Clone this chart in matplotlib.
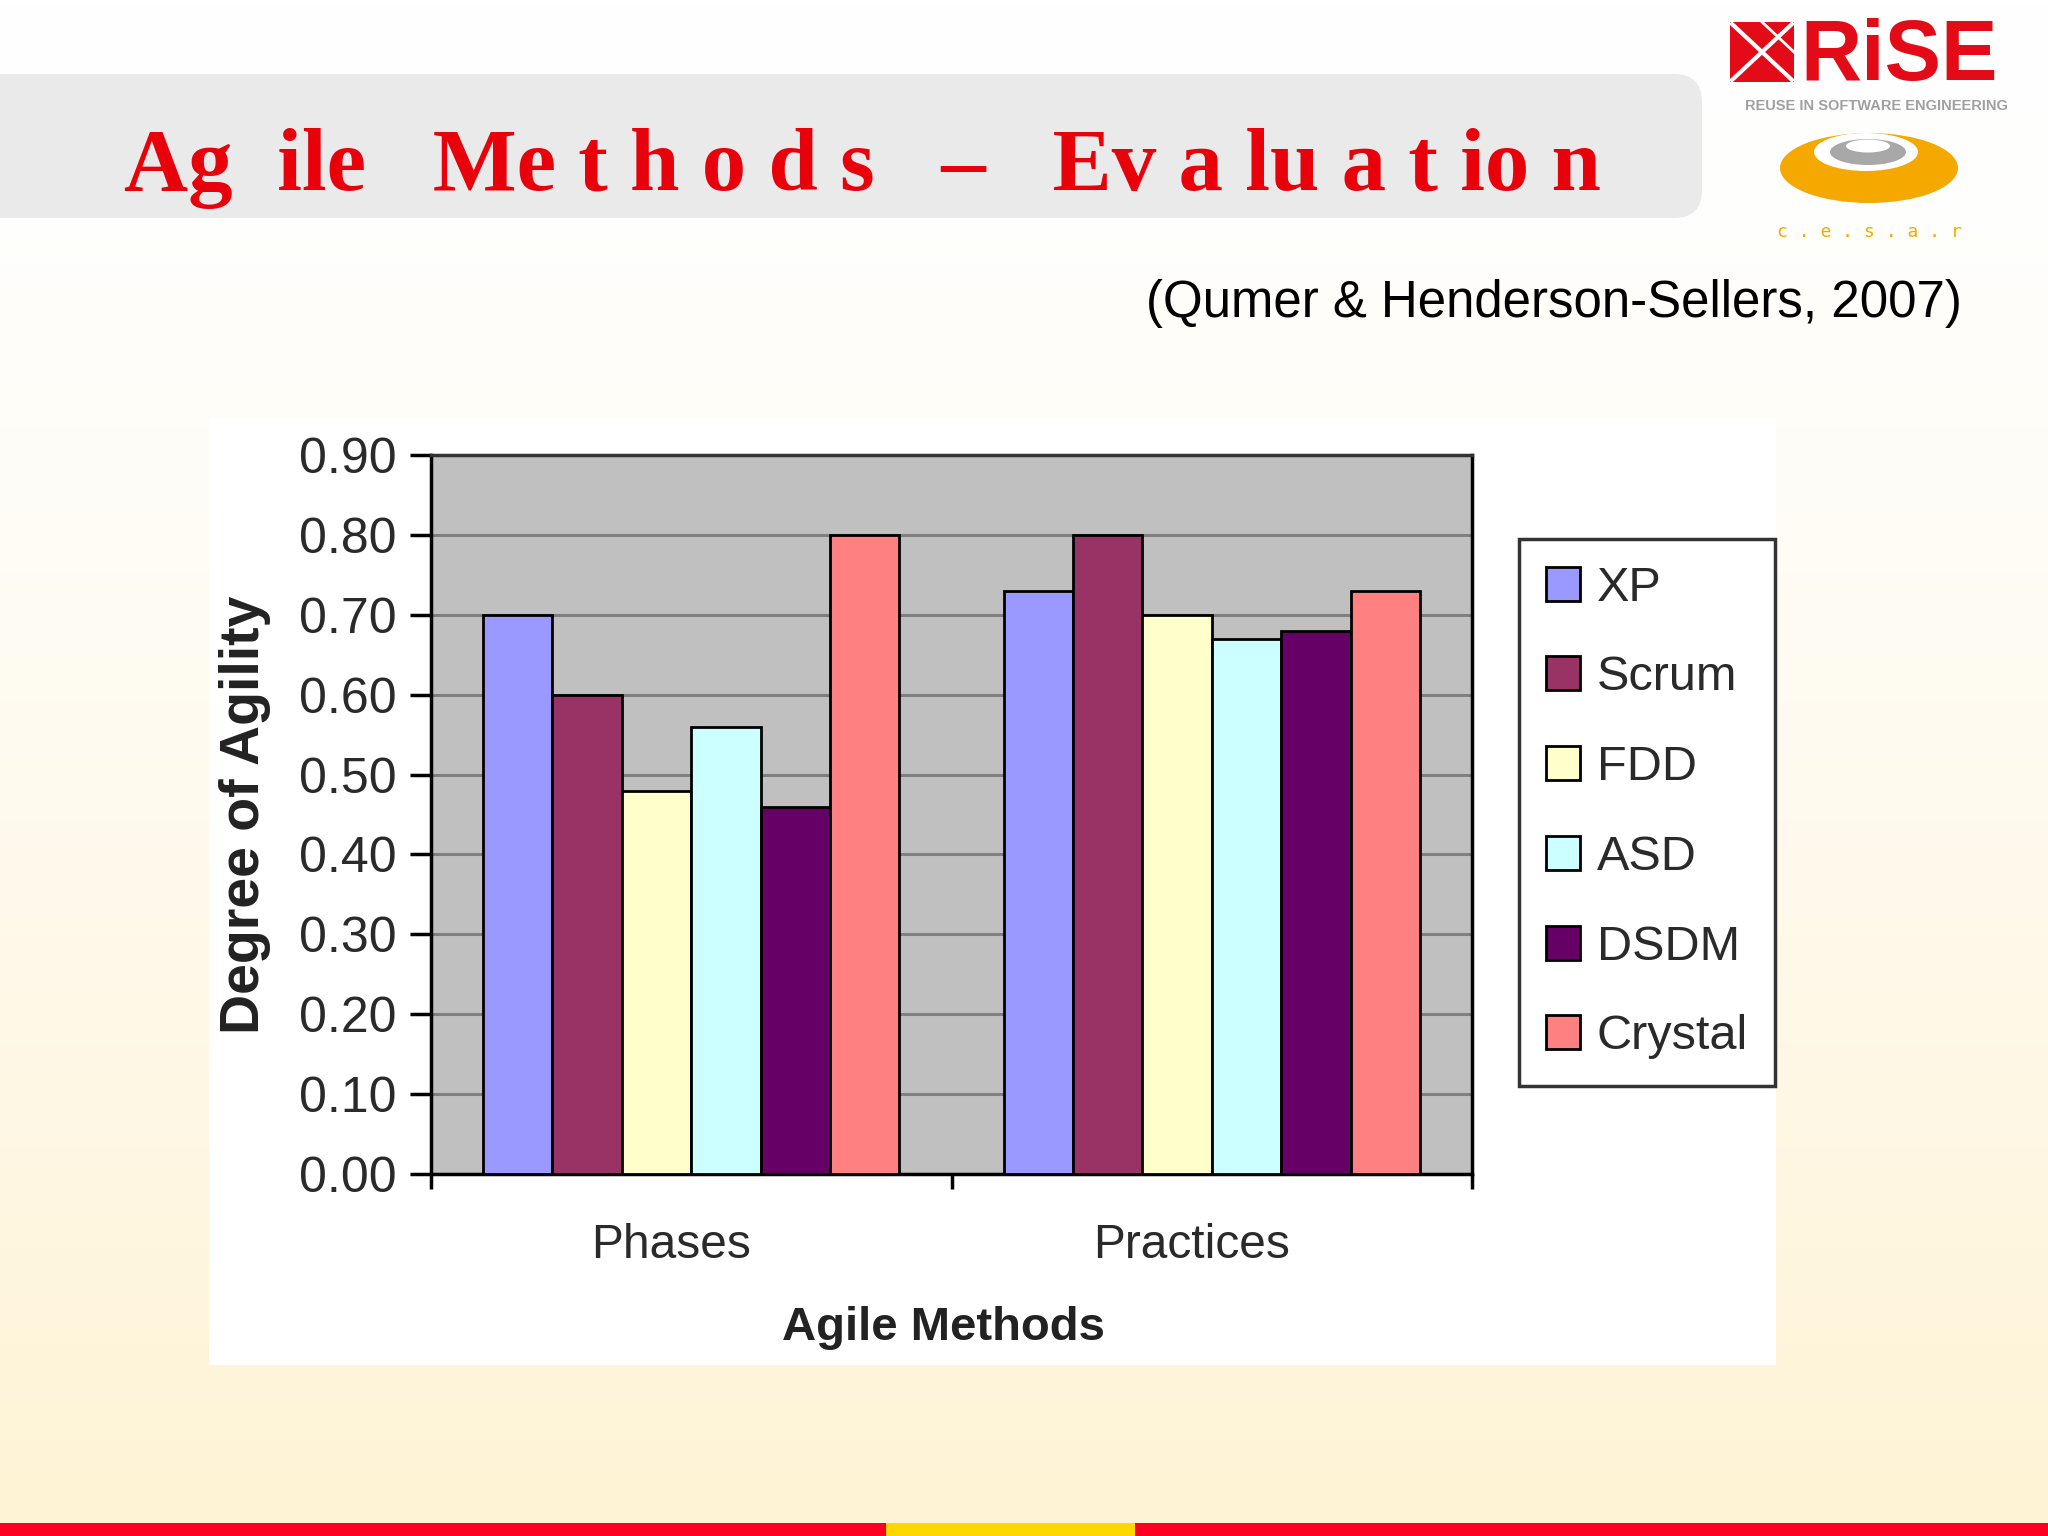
import numpy as np
import matplotlib.pyplot as plt
from matplotlib.patches import FancyBboxPatch, Rectangle, Ellipse
from matplotlib.colors import to_rgb
from matplotlib.transforms import ScaledTranslation

plt.switch_backend('Agg')
plt.rcParams['font.family'] = ['Liberation Sans', 'DejaVu Sans']

# --- data ---
categories = ['Phases', 'Practices']
methods = ['XP', 'Scrum', 'FDD', 'ASD', 'DSDM', 'Crystal']
phases = [0.70, 0.60, 0.48, 0.56, 0.46, 0.80]
practices = [0.73, 0.80, 0.70, 0.67, 0.68, 0.73]
bar_colors = ['#9999FF', '#993366', '#FFFFCC', '#CCFFFF', '#660066', '#FF8080']
yticks = [0.0, 0.1, 0.2, 0.3, 0.4, 0.5, 0.6, 0.7, 0.8, 0.9]
ytick_labels = ['0.00', '0.10', '0.20', '0.30', '0.40', '0.50', '0.60', '0.70', '0.80', '0.90']

W, H = 2048, 1536
fig = plt.figure(figsize=(W / 100, H / 100), dpi=100)

# background layer in pixel coordinates
bg = fig.add_axes([0, 0, 1, 1])
bg.set_xlim(0, W)
bg.set_ylim(H, 0)
bg.axis('off')

top_c = np.array(to_rgb('#FFFFFF'))
bot_c = np.array(to_rgb('#FEF3D4'))
t = np.linspace(0, 1, 256) ** 1.4
grad = (1 - t)[:, None, None] * top_c + t[:, None, None] * bot_c
bg.imshow(grad, extent=[0, W, H, 0], aspect='auto', zorder=0)

# title band
bg.add_patch(FancyBboxPatch((-60, 74), 1762, 144,
                            boxstyle='round,pad=0,rounding_size=28',
                            fc='#EAEAEA', ec='none', zorder=1))
bg.text(124, 190, 'Ag  ile   Me t h o d s   –   Ev a lu a t io n',
        fontsize=64, fontweight='bold', family='Liberation Serif',
        color='#E8000B', ha='left', va='baseline', zorder=2)

bg.text(1962, 317, '(Qumer & Henderson-Sellers, 2007)', fontsize=36.7,
        color='black', ha='right', va='baseline', zorder=2)

# white area behind the chart
bg.add_patch(Rectangle((209, 418), 1567, 947, fc='white', ec='none', zorder=1))

# RiSE logo
bg.add_patch(Rectangle((1730, 22), 64, 60, fc='#E30B17', ec='none', zorder=2))
bg.plot([1732, 1792], [24, 80], color='white', lw=3, zorder=3)
bg.plot([1732, 1792], [80, 24], color='white', lw=3, zorder=3)
bg.plot([1762, 1794], [22, 52], color='white', lw=2, zorder=3)
bg.text(1800, 80, 'RiSE', fontsize=61, fontweight='bold', color='#E30B17',
        ha='left', va='baseline', zorder=2)
bg.text(1876, 106, 'REUSE IN SOFTWARE ENGINEERING', fontsize=10.5,
        fontweight='bold', color='#A0A0A0', ha='center', va='center', zorder=2)

# CESAR logo
bg.add_patch(Ellipse((1869, 168), 178, 70, fc='#F5A800', ec='none', zorder=2))
bg.add_patch(Ellipse((1866, 152), 104, 38, fc='white', ec='none', zorder=3))
bg.add_patch(Ellipse((1868, 152), 76, 26, fc='#A8A8A8', ec='none', zorder=4))
bg.add_patch(Ellipse((1868, 146), 44, 13, fc='white', ec='none', zorder=5))
bg.text(1869, 232, 'c . e . s . a . r', fontsize=13, color='#F5A800',
        family='DejaVu Sans Mono', ha='center', va='center', zorder=2)

# bottom stripe
bg.add_patch(Rectangle((0, 1523), W, 13, fc='#FF0022', ec='none', zorder=2))
bg.add_patch(Rectangle((886, 1523), 249, 13, fc='#FFD700', ec='none', zorder=3))

# --- the chart ---
ax = fig.add_axes([431 / W, 1 - 1174 / H, 1041 / W, 719 / H])
x = np.arange(len(categories))
width = 0.8 / len(methods)
for i, name in enumerate(methods):
    off = -0.4 + width * (i + 0.5)
    ax.bar(x + off, [phases[i], practices[i]], width, color=bar_colors[i],
           edgecolor='black', linewidth=2, label=name, zorder=3)

ax.set_facecolor('#C0C0C0')
ax.set_xlim(-0.5, 1.5)
ax.set_ylim(0, 0.9)
ax.yaxis.grid(True, color='#808080', linewidth=2.2)
ax.set_axisbelow(True)

ax.set_yticks(yticks)
ax.set_yticklabels(ytick_labels)
ax.tick_params(axis='y', direction='out', length=15, width=2.5, pad=10,
               labelsize=36, labelcolor='#2a2a2a')

ax.set_xticks([-0.5, 0.5, 1.5])
ax.set_xticklabels([])
ax.tick_params(axis='x', which='major', direction='out', length=11, width=2.5)
ax.set_xticks(x, minor=True)
ax.set_xticklabels(categories, minor=True)
ax.tick_params(axis='x', which='minor', length=0, pad=35, labelsize=34.5,
               labelcolor='#2a2a2a')
# category labels sit a little left of the group centre in the original
shift = ScaledTranslation(-0.2, 0, fig.dpi_scale_trans)
for lbl in ax.get_xticklabels(minor=True):
    lbl.set_transform(lbl.get_transform() + shift)

for s in ax.spines.values():
    s.set_linewidth(2.5)
    s.set_color('black')
ax.spines['top'].set_color('#333333')

ax.set_xlabel('Agile Methods', fontsize=34, fontweight='bold', labelpad=28,
              color='#222222')
ax.xaxis.label.set_x(0.492)
ax.set_ylabel('Degree of Agility', fontsize=40, fontweight='bold', labelpad=20,
              color='#222222')

leg = ax.legend(loc='upper left', bbox_to_anchor=(1519 / W, 1 - 539 / H),
                bbox_transform=fig.transFigure, fontsize=35, frameon=True,
                fancybox=False, edgecolor='#333333', framealpha=1,
                borderaxespad=0, handlelength=0.7, handleheight=0.7,
                handletextpad=0.35, labelspacing=0.92, borderpad=0.55)
leg.get_frame().set_linewidth(2.5)
for txt in leg.get_texts():
    txt.set_color('#2a2a2a')

fig.savefig('out.png', dpi=100)
